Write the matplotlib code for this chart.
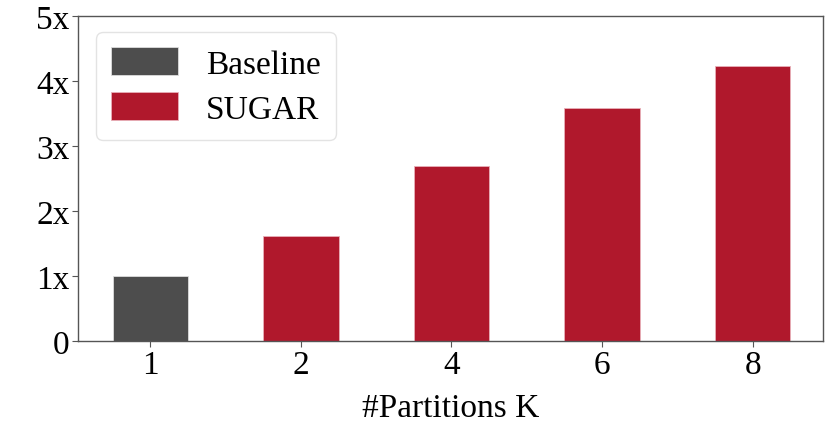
import matplotlib.pyplot as plt

partitions = ["1", "2", "4", "6", "8"]
speedup = [1.0, 1.61, 2.69, 3.58, 4.23]
methods = ["Baseline", "SUGAR"]

plt.rcParams['font.family'] = ['Liberation Serif', 'DejaVu Serif']

fig, ax = plt.subplots(figsize=(8.3, 4.31), dpi=100)
fig.subplots_adjust(left=0.094, right=0.992, top=0.961, bottom=0.207)

pos = list(range(len(partitions)))
colors = ["#4d4d4d"] + ["#b0182c"] * (len(partitions) - 1)
ax.bar(pos[:1], speedup[:1], 0.5, color=colors[0], edgecolor="#dddddd",
       linewidth=0.6, label=methods[0])
ax.bar(pos[1:], speedup[1:], 0.5, color=colors[1], edgecolor="#e8b0b8",
       linewidth=0.6, label=methods[1])

ax.set_xticks(pos)
ax.set_xticklabels(partitions)
ax.set_yticks([0, 1, 2, 3, 4, 5])
ax.set_yticklabels(["0", "1x", "2x", "3x", "4x", "5x"])
ax.set_xlim(-0.48, 4.47)
ax.set_ylim(0, 5)
ax.tick_params(labelsize=24, length=4, color="#555555", pad=2)
for s in ax.spines.values():
    s.set_color("#555555")
    s.set_linewidth(1.0)

ax.set_xlabel("#Partitions K", fontsize=24, labelpad=9)
ax.legend(loc="upper left", fontsize=24, handlelength=2.0, handleheight=0.9,
          borderpad=0.45, labelspacing=0.38, handletextpad=0.85,
          edgecolor="#dddddd", bbox_to_anchor=(0.002, 1.0))

plt.savefig("out.png")
